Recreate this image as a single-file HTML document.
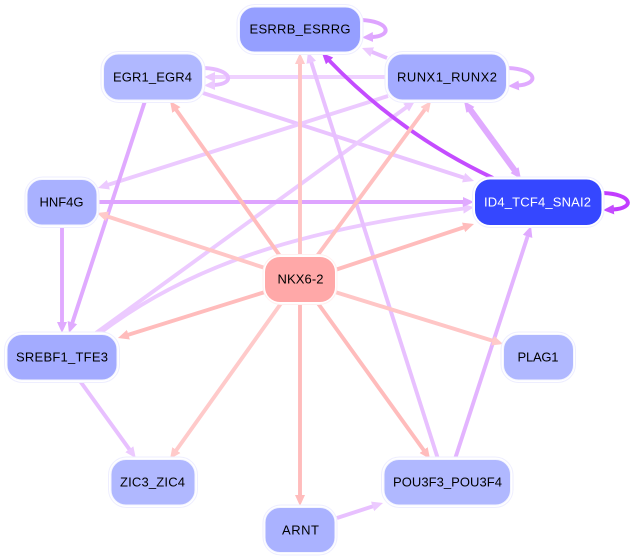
<!DOCTYPE html>
<html>
<head>
<meta charset="utf-8">
<style>
html,body{margin:0;padding:0;background:#fff;width:632px;height:560px;overflow:hidden}
svg{display:block}
text{font-family:"Liberation Sans",Arial,sans-serif;font-size:13px;text-anchor:middle;fill:#000}
.e{fill:none;stroke-width:3.9}
.o{fill:#fff;stroke:#eeeeff;stroke-width:1}
.n{stroke:#f4f5ff;stroke-width:1}
</style>
</head>
<body>
<svg width="632" height="560" viewBox="0 0 632 560" xmlns="http://www.w3.org/2000/svg">
<defs>
<marker id="p" markerUnits="userSpaceOnUse" markerWidth="13" markerHeight="14" refX="1" refY="7" orient="auto"><path d="M0,2L11,7L0,12z" fill="#ffbcbc"/></marker>
<marker id="q" markerUnits="userSpaceOnUse" markerWidth="13" markerHeight="14" refX="1" refY="7" orient="auto"><path d="M0,2L11,7L0,12z" fill="#ffcaca"/></marker>
<marker id="l" markerUnits="userSpaceOnUse" markerWidth="13" markerHeight="14" refX="1" refY="7" orient="auto"><path d="M0,2L11,7L0,12z" fill="#eccaff"/></marker>
<marker id="m" markerUnits="userSpaceOnUse" markerWidth="13" markerHeight="14" refX="1" refY="7" orient="auto"><path d="M0,2L11,7L0,12z" fill="#e0aaff"/></marker>
<marker id="d" markerUnits="userSpaceOnUse" markerWidth="13" markerHeight="14" refX="1" refY="7" orient="auto"><path d="M0,2L11,7L0,12z" fill="#c44cff"/></marker>
</defs>

<!-- light purple edges -->
<path class="e" d="M387,58L371.3,51.7" stroke="#e6bcff" marker-end="url(#l)"/>
<path class="e" d="M387,77L214,77" stroke="#efd2ff" marker-end="url(#l)"/>
<path class="e" d="M203,93L464.5,177.9" stroke="#eac4ff" marker-end="url(#l)"/>
<path class="e" d="M96,333L406.9,106.9" stroke="#eccaff" marker-end="url(#l)"/>
<path class="e" d="M388,96L107.5,185" stroke="#eccaff" marker-end="url(#l)"/>
<path class="e" d="M100,333C190,265 300,230 464,208.5" stroke="#eccaff" marker-end="url(#l)"/>
<path class="e" d="M80,381L129.9,450" stroke="#e8c0ff" marker-end="url(#l)"/>
<path class="e" d="M438,459L311,61.5" stroke="#e8c0ff" marker-end="url(#l)"/>
<path class="e" d="M337,518L373.5,506.1" stroke="#e8c0ff" marker-end="url(#l)"/>
<!-- medium purple edges -->
<path class="e" d="M145,101L72.1,323.5" stroke="#e0aaff" marker-end="url(#m)"/>
<path class="e" d="M62,226L62,323" stroke="#e0aaff" marker-end="url(#m)"/>
<path class="e" d="M97,202L464,202" stroke="#dea4ff" marker-end="url(#m)"/>
<path class="e" d="M455,459L527.9,235.5" stroke="#e3b4ff" marker-end="url(#m)"/>
<path class="e" style="stroke-width:6" d="M492.5,140L469.9,109.1" stroke="#e0aaff" marker-end="url(#m)"/>
<path class="e" style="stroke-width:6" d="M492.5,140L515.1,170.9" stroke="#e0aaff" marker-end="url(#m)"/>
<!-- dark purple edges -->
<path class="e" d="M493,178Q400,134 328.9,60.2" stroke="#c44cff" marker-end="url(#d)"/>
<!-- self loops -->
<path class="e" d="M361,20C390,21 393,36 372,37" stroke="#dea4ff" marker-end="url(#m)"/>
<path class="e" d="M508,68C537,69 540,84 518,85.5" stroke="#e0aaff" marker-end="url(#m)"/>
<path class="e" d="M204,68C232,69 236,84 214,85" stroke="#e6bcff" marker-end="url(#l)"/>
<path class="e" d="M603,193C632,194 636,208 613,209.5" stroke="#c23cff" marker-end="url(#d)"/>
<!-- pink edges -->
<path class="e" d="M300,257L300,63" stroke="#ffc4c4" marker-end="url(#q)"/>
<path class="e" d="M280,256L175.8,109.2" stroke="#ffbcbc" marker-end="url(#p)"/>
<path class="e" d="M317,256L425.1,109.1" stroke="#ffc0c0" marker-end="url(#q)"/>
<path class="e" d="M335,270L464.5,227.1" stroke="#ffbcbc" marker-end="url(#p)"/>
<path class="e" d="M265,268L106.5,216.1" stroke="#ffc6c6" marker-end="url(#q)"/>
<path class="e" d="M265,292L127.5,335" stroke="#ffbcbc" marker-end="url(#p)"/>
<path class="e" d="M282,302L175.8,450.9" stroke="#ffcaca" marker-end="url(#q)"/>
<path class="e" d="M300,303L300,496" stroke="#ffbcbc" marker-end="url(#p)"/>
<path class="e" d="M317,302L424.2,450.9" stroke="#ffbcbc" marker-end="url(#p)"/>
<path class="e" d="M335,292L493.5,341" stroke="#ffc6c6" marker-end="url(#q)"/>

<!-- nodes -->
<rect class="o" x="237" y="4.5" width="126" height="50" rx="18"/><rect class="n" x="239.5" y="7" width="121" height="45" rx="15" fill="#959fff"/><text x="300" y="33.5" textLength="101">ESRRB_ESRRG</text>
<rect class="o" x="385" y="51.5" width="124" height="51" rx="18"/><rect class="n" x="387.5" y="54" width="119" height="46" rx="15" fill="#a3abff"/><text x="447" y="81.5" textLength="100">RUNX1_RUNX2</text>
<rect class="o" x="101" y="51.5" width="104" height="51" rx="18"/><rect class="n" x="103.5" y="54" width="99" height="46" rx="15" fill="#b0b8ff"/><text x="152.5" y="81.5" textLength="79">EGR1_EGR4</text>
<rect class="o" x="25" y="177" width="74" height="50.5" rx="18"/><rect class="n" x="27" y="179.5" width="70" height="45.5" rx="15" fill="#a9b1ff"/><text x="61.500" y="206.500" textLength="44">HNF4G</text>
<rect class="o" x="472.500" y="177" width="131.500" height="50.500" rx="18"/><rect x="475" y="179.500" width="126.500" height="45.500" rx="15" fill="#3547ff"/><text x="537.500" y="206.500" textLength="107" style="fill:#fff">ID4_TCF4_SNAI2</text>
<rect class="o" x="263" y="254.500" width="74" height="50" rx="18" style="stroke:#fff0f0"/><rect x="265" y="257" width="70" height="45" rx="15" fill="#ffa8a8"/><text x="300.500" y="283.500" textLength="46">NKX6-2</text>
<rect class="o" x="4.500" y="332" width="115" height="50.500" rx="18"/><rect class="n" x="7" y="334.500" width="110" height="45.500" rx="15" fill="#a3abff"/><text x="62" y="361.500" textLength="92">SREBF1_TFE3</text>
<rect class="o" x="501" y="332" width="74.500" height="50.500" rx="18"/><rect class="n" x="503.500" y="334.500" width="70" height="45.500" rx="15" fill="#b0b8ff"/><text x="538" y="361.500" textLength="41">PLAG1</text>
<rect class="o" x="108.500" y="457" width="89" height="50.500" rx="18"/><rect class="n" x="111" y="459.500" width="84" height="45.500" rx="15" fill="#b0b8ff"/><text x="152.500" y="486.500" textLength="65">ZIC3_ZIC4</text>
<rect class="o" x="381.500" y="457" width="131.500" height="50.500" rx="18"/><rect class="n" x="384" y="459.500" width="126.500" height="45.500" rx="15" fill="#b0b8ff"/><text x="447.500" y="486.500" textLength="109">POU3F3_POU3F4</text>
<rect class="o" x="263" y="505" width="74" height="50" rx="18"/><rect class="n" x="265" y="507.500" width="70" height="45" rx="15" fill="#aab2ff"/><text x="300.500" y="534.500" textLength="37">ARNT</text>
</svg>
</body>
</html>
